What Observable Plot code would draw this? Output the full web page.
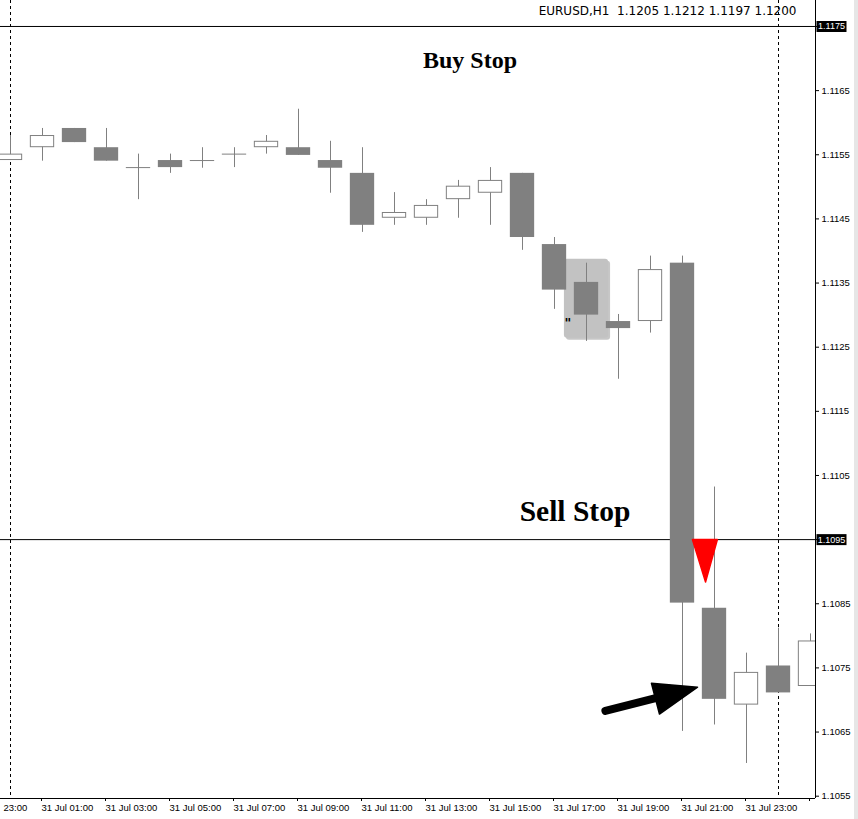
<!DOCTYPE html>
<html><head><meta charset="utf-8">
<script src="https://cdn.jsdelivr.net/npm/d3@7"></script>
<script src="https://cdn.jsdelivr.net/npm/@observablehq/plot@0.6"></script>
<style>
html,body{margin:0;padding:0;background:#fff;}
#chart{position:relative;width:858px;height:819px;overflow:hidden;}
#edge{position:absolute;right:0;top:0;width:4px;height:819px;background:#e6e6e6;}
</style></head><body>
<div id="chart"><div id="edge"></div></div>
<script>
// ---- data (EURUSD H1, 31 Jul 00:00 .. 1 Aug 01:00) ----
const times = ["31 Jul 00:00","31 Jul 01:00","31 Jul 02:00","31 Jul 03:00","31 Jul 04:00","31 Jul 05:00",
  "31 Jul 06:00","31 Jul 07:00","31 Jul 08:00","31 Jul 09:00","31 Jul 10:00","31 Jul 11:00","31 Jul 12:00",
  "31 Jul 13:00","31 Jul 14:00","31 Jul 15:00","31 Jul 16:00","31 Jul 17:00","31 Jul 18:00","31 Jul 19:00",
  "31 Jul 20:00","31 Jul 21:00","31 Jul 22:00","31 Jul 23:00","1 Aug 00:00","1 Aug 01:00"];
const opens  = [1.11541,1.11561,1.11591,1.11561,1.11530,1.11541,1.11541,1.11551,1.11561,1.11561,1.11541,1.11521,1.11451,
                1.11451,1.11480,1.11490,1.11521,1.11410,1.11351,1.11290,1.11290,1.11381,1.10843,1.10692,1.10753,1.10721];
const highs  = [1.11580,1.11591,1.11591,1.11591,1.11551,1.11551,1.11561,1.11561,1.11580,1.11621,1.11571,1.11561,1.11491,
                1.11480,1.11510,1.11530,1.11521,1.11421,1.11381,1.11301,1.11392,1.11392,1.11032,1.10773,1.10812,1.10803];
const lows   = [1.11541,1.11540,1.11569,1.11540,1.11480,1.11521,1.11529,1.11530,1.11551,1.11549,1.11490,1.11429,1.11440,
                1.11440,1.11451,1.11440,1.11401,1.11309,1.11259,1.11200,1.11272,1.10651,1.10661,1.10601,1.10711,1.10721];
const closes = [1.11551,1.11580,1.11569,1.11540,1.11530,1.11530,1.11541,1.11551,1.11571,1.11549,1.11529,1.11440,1.11460,
                1.11471,1.11501,1.11510,1.11421,1.11339,1.11300,1.11279,1.11371,1.10851,1.10701,1.10743,1.10711,1.10792];

const xTickIdx    = [-1,1,3,5,7,9,11,13,15,17,19,21,23,25];
const xTickLabels = ["","31 Jul 01:00","31 Jul 03:00","31 Jul 05:00","31 Jul 07:00","31 Jul 09:00",
  "31 Jul 11:00","31 Jul 13:00","31 Jul 15:00","31 Jul 17:00","31 Jul 19:00","31 Jul 21:00","31 Jul 23:00",""];
const partialLeftLabel = "23:00";        // visible tail of "30 Jul 23:00"
const yTicks = [1.1055,1.1065,1.1075,1.1085,1.1095,1.1105,1.1115,1.1125,1.1135,1.1145,1.1155,1.1165,1.1175];
const levels = [1.1175, 1.1095];          // pending order lines
const separators = [0, 24];               // day separators (candle index)
const xDomain = [-0.3125, 25.15625];
const yDomain = [1.105464, 1.117905];
const header = "EURUSD,H1  1.1205 1.1212 1.1197 1.1200";

// annotations in data units (candle index, price)
const buyStopPos  = [14.36, 1.11697];
const sellStopPos = [17.64, 1.10994];
const highlightBox = [17.31, 18.69, 1.11264, 1.11387];
const quotePos = [17.42, 1.11288];
const redTriangle = [[21.31,1.1095],[22.09,1.1095],[21.72,1.10884]];
const arrowShaft = [18.59, 1.10683, 20.16, 1.10703];
const arrowHead = [[21.47,1.10720],[20.03,1.10726],[20.28,1.10678]];

// ---- build table ----
const candles = times.map((t, i) => ({i, t, open: opens[i], high: highs[i], low: lows[i], close: closes[i]}));
const bear = candles.filter(d => d.close < d.open);
const bull = candles.filter(d => d.close > d.open);
const doji = candles.filter(d => d.close === d.open);
const HW = 0.38;
const gray = "#808080";
const fmt = d3.format(".4f");
const tickLabel = new Map(xTickIdx.map((v, k) => [v, xTickLabels[k]]));
const boxSymbol = {draw(ctx){ ctx.rect(-15, -5.5, 30, 11); }};

const chart = Plot.plot({
  width: 858, height: 819,
  marginLeft: 0, marginRight: 43, marginTop: 0, marginBottom: 21,
  x: {domain: xDomain},
  y: {domain: yDomain},
  style: {fontFamily: "Liberation Sans, Arial, sans-serif", fontSize: "9.5px", color: "black", background: "white"},
  marks: [
    Plot.ruleX(separators, {x: d => d, stroke: "black", strokeDasharray: "3,3"}),
    Plot.ruleY(levels, {y: d => d, stroke: "black"}),
    // highlight box with shadow
    Plot.rect([highlightBox], {x1: d => d[0], x2: d => d[1], y1: d => d[2], y2: d => d[3], dx: 2, dy: 2, rx: 3, fill: "black", fillOpacity: 0.22}),
    Plot.rect([highlightBox], {x1: d => d[0], x2: d => d[1], y1: d => d[2], y2: d => d[3], rx: 3, fill: "#c2c2c2"}),
    // candles
    Plot.ruleX(candles, {x: "i", y1: "low", y2: "high", stroke: gray, clip: true}),
    Plot.rect(bear, {x1: d => d.i - HW, x2: d => d.i + HW, y1: "open", y2: "close", fill: gray, clip: true}),
    Plot.rect(bull, {x1: d => d.i - HW, x2: d => d.i + HW, y1: "open", y2: "close", fill: "white", stroke: gray, inset: 0.5, clip: true}),
    Plot.ruleY(doji, {x1: d => d.i - HW, x2: d => d.i + HW, y: "open", stroke: gray, clip: true}),
    Plot.text([quotePos], {x: d => d[0], y: d => d[1], text: () => "\"", fontSize: 13, fontWeight: "bold", fill: "black", fontFamily: "DejaVu Sans"}),
    // red sell marker
    Plot.line(redTriangle, {x: d => d[0], y: d => d[1], fill: "#ff0000", stroke: "#ff0000", curve: "linear-closed"}),
    // black arrow
    Plot.link([arrowShaft], {x1: d => d[0], y1: d => d[1], x2: d => d[2], y2: d => d[3], stroke: "black", strokeWidth: 8, strokeLinecap: "round"}),
    Plot.line(arrowHead, {x: d => d[0], y: d => d[1], fill: "black", stroke: "black", curve: "linear-closed"}),
    // labels
    Plot.text([buyStopPos], {x: d => d[0], y: d => d[1], text: () => "Buy Stop", fontFamily: "Liberation Serif, serif", fontWeight: "bold", fontSize: 24, fill: "black"}),
    Plot.text([sellStopPos], {x: d => d[0], y: d => d[1], text: () => "Sell Stop", fontFamily: "Liberation Serif, serif", fontWeight: "bold", fontSize: 29.5, fill: "black"}),
    Plot.text([header], {frameAnchor: "top-right", text: d => d, dx: -19, dy: 11, lineAnchor: "middle", textAnchor: "end", fontFamily: "DejaVu Sans", fontSize: 12, fill: "black"}),
    // frame lines
    Plot.ruleX([xDomain[1]], {x: d => d, stroke: "black"}),
    Plot.ruleY([yDomain[0]], {y: d => d, stroke: "black"}),
    // axes
    Plot.axisX(xTickIdx, {anchor: "bottom", tickSize: 3, tickPadding: 3, textAnchor: "start", dx: -1, tickFormat: d => tickLabel.get(d), label: null, fontSize: 9.5}),
    Plot.text([partialLeftLabel], {frameAnchor: "bottom-left", text: d => d, dx: 3, dy: 6, lineAnchor: "top", textAnchor: "start", fontSize: 9.5, fill: "black"}),
    Plot.axisY(yTicks, {anchor: "right", tickSize: 3, tickPadding: 3, tickFormat: d => levels.includes(d) ? "" : fmt(d), label: null, fontSize: 9.5}),
    // level price boxes
    Plot.dot(levels, {y: d => d, frameAnchor: "right", dx: 16, symbol: boxSymbol, fill: "black", stroke: null}),
    Plot.text(levels, {y: d => d, frameAnchor: "right", dx: 16, textAnchor: "middle", text: d => fmt(d), fill: "white", fontSize: 9})
  ]
});
document.getElementById("chart").prepend(chart);
</script>
</body></html>
